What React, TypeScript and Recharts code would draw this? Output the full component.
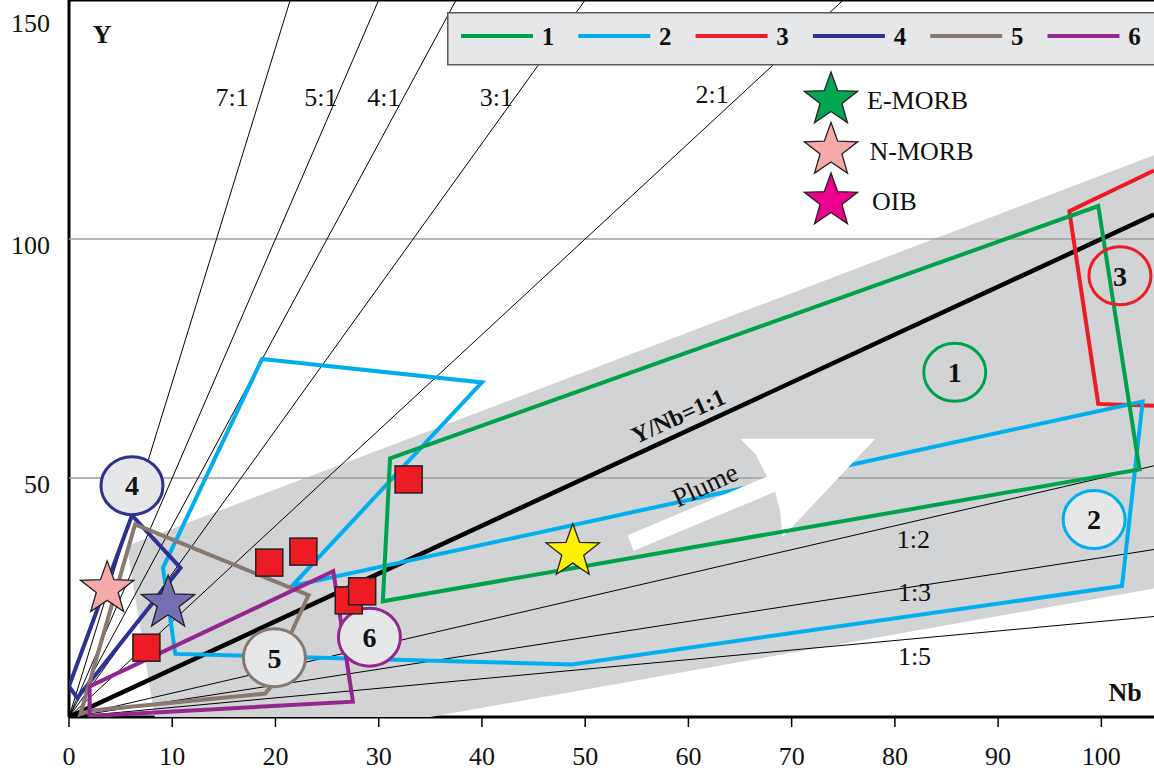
import React from 'react';
import { ScatterChart, Scatter, XAxis, YAxis, Legend } from 'recharts';

type Pt = { x: number; y: number };

const SERIF = '"Liberation Serif", "Times New Roman", serif';
const NB_MAX = 105.1;

const nbTicks = [0, 10, 20, 30, 40, 50, 60, 70, 80, 90, 100];
const yTicks = [50, 100, 150];
const gridValues = [50, 100];

// grey plume field and the white arrow
const plumeField: Pt[] = [
  { x: 5.6, y: 35.8 }, { x: 105.1, y: 117.5 }, { x: 105.1, y: 26.9 }, { x: 35.0, y: 0 }, { x: 8.3, y: 0 },
];
const plumeArrow: Pt[] = [
  { x: 54.1, y: 38.0 }, { x: 67.6, y: 50.3 }, { x: 66.5, y: 55.0 }, { x: 65.0, y: 58.2 }, { x: 78.1, y: 58.2 },
  { x: 69.1, y: 37.6 }, { x: 68.9, y: 42.9 }, { x: 68.4, y: 47.1 }, { x: 54.7, y: 34.8 },
];

// Y = k * Nb reference lines, origin -> frame
const ratioLines: { label: string; end: Pt }[] = [
  { label: '7:1', end: { x: 21.43, y: 150 } },
  { label: '5:1', end: { x: 30, y: 150 } },
  { label: '4:1', end: { x: 37.5, y: 150 } },
  { label: '3:1', end: { x: 50, y: 150 } },
  { label: '2:1', end: { x: 75, y: 150 } },
  { label: '1:2', end: { x: 105.1, y: 52.55 } },
  { label: '1:3', end: { x: 105.1, y: 35.03 } },
  { label: '1:5', end: { x: 105.1, y: 21.02 } },
];
const unitLine: Pt[] = [{ x: 0, y: 0 }, { x: 105.1, y: 105.1 }];

const ratioLabels = [
  { x: 15.8, y: 129.7, text: '7:1' },
  { x: 24.4, y: 129.7, text: '5:1' },
  { x: 30.5, y: 129.7, text: '4:1' },
  { x: 41.4, y: 129.7, text: '3:1' },
  { x: 62.3, y: 130.3, text: '2:1' },
  { x: 81.8, y: 37.2, text: '1:2' },
  { x: 81.9, y: 26.1, text: '1:3' },
  { x: 81.9, y: 12.7, text: '1:5' },
];
const axisTitles = [
  { x: 3.2, y: 143.0, text: 'Y' },
  { x: 102.3, y: 5.3, text: 'Nb' },
];
const unitLabel = [{ x: 59.0, y: 63.0, text: 'Y/Nb=1:1' }];
const plumeLabel = [{ x: 61.6, y: 48.6, text: 'Plume' }];

// field outlines
const fieldNames = ['1', '2', '3', '4', '5', '6'];
const fieldColors = ['#00a14b', '#00aeef', '#ed1c24', '#2e3192', '#877870', '#93278f'];
const field1: Pt[] = [{ x: 31.1, y: 54.1 }, { x: 99.7, y: 106.9 }, { x: 103.7, y: 51.8 }, { x: 30.4, y: 24.2 }];
const field2: Pt[] = [
  { x: 18.7, y: 74.9 }, { x: 40.0, y: 70.0 }, { x: 21.6, y: 27.4 }, { x: 104.0, y: 66.0 },
  { x: 102.0, y: 27.4 }, { x: 48.7, y: 11.0 }, { x: 10.3, y: 13.2 }, { x: 9.1, y: 31.2 },
];
const field3: Pt[] = [{ x: 105.1, y: 114.3 }, { x: 96.9, y: 105.8 }, { x: 99.7, y: 65.5 }, { x: 105.1, y: 65.1 }];
const field4: Pt[] = [{ x: 6.1, y: 42.2 }, { x: 10.8, y: 31.2 }, { x: 0.8, y: 4.0 }, { x: 0, y: 6.4 }];
const field5: Pt[] = [
  { x: 6.4, y: 40.3 }, { x: 23.2, y: 25.5 }, { x: 21.4, y: 17.0 }, { x: 19.5, y: 6.2 },
  { x: 19.0, y: 4.9 }, { x: 2.0, y: 1.3 }, { x: 1.1, y: 0.6 },
];
const field6: Pt[] = [{ x: 2.0, y: 6.4 }, { x: 25.6, y: 30.5 }, { x: 27.5, y: 3.2 }, { x: 2.0, y: 0.2 }];
const openFields = ['3'];

const fieldTags = [
  { x: 85.8, y: 72.1, label: '1' },
  { x: 99.3, y: 41.3, label: '2' },
  { x: 101.8, y: 92.3, label: '3' },
  { x: 6.1, y: 48.4, label: '4' },
  { x: 19.9, y: 12.4, label: '5' },
  { x: 29.1, y: 16.7, label: '6' },
];
const openTags = ['1', '3'];

// samples and reference magmas
const samples: Pt[] = [
  { x: 7.5, y: 14.5 }, { x: 19.4, y: 32.3 }, { x: 22.7, y: 34.6 },
  { x: 27.1, y: 24.4 }, { x: 28.4, y: 26.3 }, { x: 32.9, y: 49.7 },
];
const magmaNames = ['E-MORB', 'N-MORB', 'OIB'];
const magmaColors = ['#00a651', '#f5a9a8', '#ec008c'];
const nMorb: Pt[] = [{ x: 3.7, y: 26.8 }];
const violetStar: Pt[] = [{ x: 9.6, y: 23.8 }];
const yellowStar: Pt[] = [{ x: 48.8, y: 34.6 }];

const starPath = (cx: number, cy: number, R: number) => {
  const r = R * 0.41;
  let d = '';
  for (let i = 0; i < 10; i++) {
    const a = ((-90 + i * 36) * Math.PI) / 180;
    const rad = i % 2 ? r : R;
    d += (i ? 'L' : 'M') + (cx + rad * Math.cos(a)).toFixed(2) + ',' + (cy + rad * Math.sin(a)).toFixed(2);
  }
  return d + 'Z';
};

const noDot = () => <g />;

const outline = (stroke: string, width: number, fill = 'none', closed = true) => (p: any) => {
  const pts: Pt[] = p.points || [];
  const d = pts.map((q, i) => `${i ? 'L' : 'M'}${q.x},${q.y}`).join(' ') + (closed ? ' Z' : '');
  return <path d={d} fill={fill} stroke={stroke} strokeWidth={width} strokeLinejoin="miter" strokeMiterlimit={10} />;
};

const star = (color: string) => (p: any) => (
  <path d={starPath(p.cx, p.cy, 28)} fill={color} stroke="#231f20" strokeWidth={1.3} />
);

const square = (p: any) => (
  <rect x={p.cx - 13.5} y={p.cy - 13.5} width={27} height={27} fill="#ed1c24" stroke="#231f20" strokeWidth={1.5} />
);

const FieldTag = (p: any) => {
  const label = p.payload.label;
  const color = fieldColors[fieldNames.indexOf(label)];
  return (
    <g>
      <ellipse cx={p.cx} cy={p.cy} rx={31} ry={29} fill={openTags.includes(label) ? 'none' : '#e6e7e8'} stroke={color} strokeWidth={3} />
      <text x={p.cx} y={p.cy} dy="0.35em" textAnchor="middle" fontFamily={SERIF} fontWeight="bold" fontSize={28} fill="#111">
        {label}
      </text>
    </g>
  );
};

const note = (size: number, weight: string, rotate = 0) => (p: any) => (
  <text
    x={p.cx}
    y={p.cy}
    dy="0.35em"
    textAnchor="middle"
    fontFamily={SERIF}
    fontSize={size}
    fontWeight={weight}
    fill="#111"
    transform={rotate ? `rotate(${rotate} ${p.cx} ${p.cy})` : undefined}
  >
    {p.payload.text}
  </text>
);

const XTick = ({ x, payload }: any) => (
  <text x={x} y={765} textAnchor="middle" fontFamily={SERIF} fontSize={26} fill="#111">
    {payload.value}
  </text>
);

const YTick = ({ x, y, payload }: any) => (
  <text x={x} y={y + (payload.value === 150 ? 14 : 6) + 9} textAnchor="end" fontFamily={SERIF} fontSize={26} fill="#111">
    {payload.value}
  </text>
);

const LegendBox = () => (
  <svg width={707} height={220} style={{ display: 'block', overflow: 'visible' }}>
    <rect x={0.75} y={0.75} width={720} height={52} fill="#e6e7e8" stroke="#58595b" strokeWidth={1.5} />
    {fieldNames.map((name, i) => {
      const x0 = 14 + i * 117.3;
      return (
        <g key={name}>
          <line x1={x0} x2={x0 + 72} y1={24} y2={24} stroke={fieldColors[i]} strokeWidth={4} />
          <text x={x0 + 87} y={33} textAnchor="middle" fontFamily={SERIF} fontWeight="bold" fontSize={25} fill="#111">
            {name}
          </text>
        </g>
      );
    })}
    {magmaNames.map((name, i) => {
      const cy = 88 + i * 50.5;
      return (
        <g key={name}>
          <path d={starPath(384, cy, 28)} fill={magmaColors[i]} stroke="#231f20" strokeWidth={1.3} />
          <text x={420 + i * 2.5} y={cy + 9} fontFamily={SERIF} fontSize={26} fill="#111">
            {name}
          </text>
        </g>
      );
    })}
  </svg>
);

export default function App() {
  const fields = [field1, field2, field3, field4, field5, field6];
  const drawOrder = [2, 1, -1, 0, 3, 4, 5]; // -1 = plume arrow
  return (
    <div style={{ position: 'absolute', left: 0, top: 0, background: '#fff' }}>
      <ScatterChart width={1154} height={771} margin={{ top: 0, right: 0, bottom: 0, left: 0 }}>
        <XAxis
          dataKey="x"
          type="number"
          domain={[0, NB_MAX]}
          allowDataOverflow
          ticks={nbTicks}
          height={54}
          tick={<XTick />}
          tickSize={10}
          tickLine={{ stroke: '#000', strokeWidth: 1.5 }}
          axisLine={{ stroke: '#000', strokeWidth: 3 }}
        />
        <XAxis
          xAxisId="top"
          orientation="top"
          type="number"
          domain={[0, NB_MAX]}
          allowDataOverflow
          ticks={nbTicks}
          height={10}
          mirror
          tickSize={10}
          tickFormatter={() => ''}
          tickLine={{ stroke: '#000', strokeWidth: 1.5 }}
          axisLine={{ stroke: '#000', strokeWidth: 3 }}
        />
        <YAxis
          dataKey="y"
          type="number"
          domain={[0, 150]}
          allowDataOverflow
          ticks={yTicks}
          width={69}
          tick={<YTick />}
          tickSize={0}
          tickMargin={19}
          tickLine={false}
          axisLine={{ stroke: '#000', strokeWidth: 3 }}
        />

        <Scatter data={plumeField} shape={noDot} line={outline('none', 0, '#d1d3d4')} isAnimationActive={false} />
        {gridValues.map((v) => (
          <Scatter
            key={'g' + v}
            data={[{ x: 0, y: v }, { x: NB_MAX, y: v }]}
            shape={noDot}
            line={outline('#9d9fa2', 1.5, 'none', false)}
            isAnimationActive={false}
          />
        ))}
        {ratioLines.map((r) => (
          <Scatter
            key={r.label}
            data={[{ x: 0, y: 0 }, r.end]}
            shape={noDot}
            line={outline('#000', 1, 'none', false)}
            isAnimationActive={false}
          />
        ))}
        <Scatter data={unitLine} shape={noDot} line={outline('#000', 4.5, 'none', false)} isAnimationActive={false} />

        {drawOrder.map((i) =>
          i < 0 ? (
            <Scatter key="arrow" data={plumeArrow} shape={noDot} line={outline('none', 0, '#fff')} isAnimationActive={false} />
          ) : (
            <Scatter
              key={'f' + i}
              name={fieldNames[i]}
              data={fields[i]}
              shape={noDot}
              line={outline(fieldColors[i], 4, 'none', !openFields.includes(fieldNames[i]))}
              isAnimationActive={false}
            />
          )
        )}

        <Scatter data={fieldTags} shape={FieldTag} isAnimationActive={false} />
        <Scatter data={samples} shape={square} isAnimationActive={false} />
        <Scatter data={nMorb} shape={star(magmaColors[1])} isAnimationActive={false} />
        <Scatter data={violetStar} shape={star('#7670b3')} isAnimationActive={false} />
        <Scatter data={yellowStar} shape={star('#fff200')} isAnimationActive={false} />

        <Scatter data={ratioLabels} shape={note(26, 'normal')} isAnimationActive={false} />
        <Scatter data={axisTitles} shape={note(26, 'bold')} isAnimationActive={false} />
        <Scatter data={unitLabel} shape={note(24, 'bold', -24.5)} isAnimationActive={false} />
        <Scatter data={plumeLabel} shape={note(27, 'normal', -25)} isAnimationActive={false} />

        <Legend
          verticalAlign="middle"
          align="center"
          content={<LegendBox />}
          wrapperStyle={{ left: 447, top: 12, width: 707, height: 220 }}
        />
      </ScatterChart>
    </div>
  );
}
